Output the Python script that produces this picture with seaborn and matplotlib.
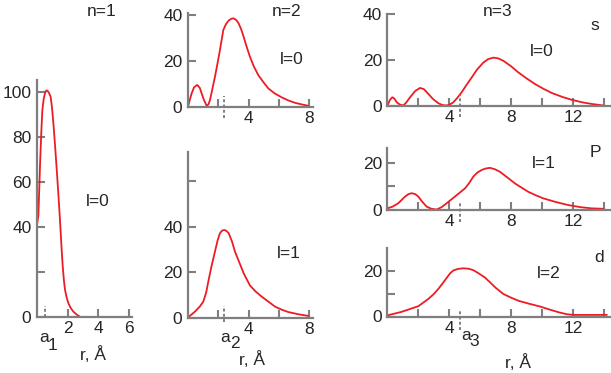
import numpy as np
import pandas as pd
import matplotlib
matplotlib.use("Agg")
import matplotlib.pyplot as plt
import seaborn as sns

# radial probability curves (r in Angstrom, arbitrary units)
r_1s = [0, 0.09, 0.2, 0.28, 0.35, 0.44, 0.52, 0.6, 0.68, 0.78, 0.89, 0.98, 1.07, 1.18,
        1.29, 1.4, 1.5, 1.6, 1.68, 1.76, 1.83, 1.94, 2.05, 2.2, 2.37, 2.6, 2.81]
p_1s = [41, 45, 68, 82, 92, 97, 99.4, 100.6, 100.6, 99.6, 97.9, 93, 86, 76,
        65.3, 54, 43, 31, 22.4, 16, 12, 8.5, 6.1, 4, 2.4, 1, 0.1]

r_2s = [0, 0.12, 0.24, 0.4, 0.61, 0.78, 0.9, 1.05, 1.23, 1.35, 1.45, 1.6, 1.78, 1.95,
        2.11, 2.33, 2.5, 2.68, 2.85, 3.01, 3.18, 3.34, 3.5, 3.67, 3.88, 4.09, 4.35,
        4.64, 5.0, 5.3, 5.7, 6.18, 6.6, 7.06, 7.5, 7.94]
p_2s = [0, 3, 5.8, 8.5, 9.5, 8.2, 5.8, 3, 0.4, 1, 2.9, 7.5, 13.1, 19,
        24.8, 33.5, 36, 37.6, 38.4, 38.6, 37.9, 36.4, 34, 30.6, 26, 21.8, 17.5,
        13.8, 10.5, 8, 5.9, 4.1, 2.8, 1.7, 1, 0.4]

r_2p = [0, 0.46, 0.8, 1.01, 1.2, 1.34, 1.55, 1.78, 1.95, 2.11, 2.25, 2.4, 2.55, 2.68,
        2.9, 3.1, 3.4, 3.67, 3.9, 4.09, 4.45, 4.86, 5.3, 5.74, 6.2, 6.62, 7.3, 7.94]
p_2p = [0, 2.6, 5, 7, 11, 15.8, 22.5, 29, 33.8, 37.1, 38.2, 38.5, 38, 37.1,
        33.5, 29, 24, 19.5, 16.5, 14.1, 11.5, 9.2, 7, 4.8, 3.4, 2.4, 1.4, 0.7]

r_3s = [0, 0.15, 0.31, 0.45, 0.6, 0.8, 1.02, 1.2, 1.46, 1.8, 2.1, 2.35, 2.64, 2.95,
        3.29, 3.55, 3.83, 4.05, 4.26, 4.5, 4.8, 5.1, 5.45, 5.8, 6.2, 6.5, 6.85, 7.15,
        7.5, 8.0, 8.47, 9.0, 9.55, 10.1, 10.63, 11.3, 11.92, 12.6, 13.2, 13.97]
p_3s = [0, 2.4, 3.6, 3, 1.4, 0.4, 0, 1.2, 3.6, 6.4, 7.7, 7.2, 5.1, 2.8,
        1, 0.2, 0, 0.5, 1.4, 3.2, 5.8, 8.9, 12.3, 15.8, 18.8, 20.3, 21, 20.7,
        19.6, 17.2, 14.5, 11.9, 9.4, 7.3, 5.5, 3.8, 2.5, 1.4, 0.7, 0]

r_3p = [0, 0.35, 0.7, 1.13, 1.35, 1.57, 1.8, 2.0, 2.25, 2.54, 2.85, 3.18, 3.5, 3.83,
        4.15, 4.48, 5.02, 5.3, 5.55, 5.8, 6.1, 6.35, 6.63, 6.95, 7.28, 7.75, 8.25,
        8.7, 9.11, 9.6, 10.08, 10.9, 11.7, 12.5, 13.2, 13.97]
p_3p = [0.5, 1.3, 2.7, 5.5, 6.6, 7, 6.6, 5.5, 3.3, 1.2, 0.3, 0, 1, 2.7,
        4.4, 6.2, 9.1, 11.5, 14.1, 15.8, 17, 17.6, 17.9, 17.3, 16.2, 13.8, 11.2,
        9.3, 7.6, 6.1, 4.8, 3.2, 1.9, 1, 0.5, 0.3]

r_3d = [0, 0.9, 2.0, 2.65, 3.0, 3.3, 3.6, 3.85, 4.05, 4.25, 4.55, 4.9, 5.25, 5.55,
        5.9, 6.3, 6.65, 7.0, 7.5, 8.0, 8.5, 9.2, 9.9, 10.5, 11.1, 11.6, 12.0, 14.2]
p_3d = [0.5, 2, 4.5, 7.7, 9.8, 12.1, 14.7, 17, 18.8, 20, 20.7, 21, 20.8, 20.2,
        18.8, 17, 14.8, 12.5, 9.8, 8.2, 6.8, 5.5, 4.3, 3, 1.8, 1, 0.7, 0.7]

# most probable radius markers a1, a2, a3
a_marks = [0.55, 2.35, 4.7]

sns.set_style("white")
plt.rcParams["font.family"] = ["Liberation Sans", "DejaVu Sans"]

W, H = 611, 373
fig = plt.figure(figsize=(W / 100, H / 100), dpi=100)

RED = "#ec1c24"
GRAY = "#7f7f7f"
FS = 12.5


def add_panel(left, right, y0, top, xlim, ylim):
    ax = fig.add_axes([left / W, (H - y0) / H, (right - left) / W, (y0 - top) / H])
    ax.set_xlim(*xlim)
    ax.set_ylim(*ylim)
    ax.patch.set_alpha(0)
    for s in ["top", "right"]:
        ax.spines[s].set_visible(False)
    for s in ["left", "bottom"]:
        ax.spines[s].set_color(GRAY)
        ax.spines[s].set_linewidth(1.6)
    ax.tick_params(direction="in", length=6, width=1.5, color=GRAY,
                   labelsize=FS, pad=4, bottom=True, left=True)
    ax.tick_params(axis="x", pad=3)
    return ax


def draw(ax, r, p):
    d = pd.DataFrame({"r": r, "p": p})
    sns.lineplot(data=d, x="r", y="p", ax=ax, color=RED, linewidth=1.3,
                 sort=False, clip_on=False)
    ax.set_xlabel("")
    ax.set_ylabel("")


def mark(ax, a, lo, hi):
    ax.axvline(a, ymin=lo, ymax=hi, color=GRAY, linestyle=(0, (1.5, 1.2)),
               linewidth=1.4, clip_on=False)


def txt(x, y, s, **kw):
    fig.text(x / W, 1 - y / H, s, ha="center", va="center", fontsize=FS, **kw)


# n=1
axA = add_panel(37, 132, 317, 80, (0, 6.2), (0, 105.3))
draw(axA, r_1s, p_1s)
axA.set_yticks([0, 20, 40, 60, 80, 100], ["0", "", "40", "60", "80", "100"])
axA.set_xticks([2, 4, 6], ["2", "4", "6"])
mark(axA, a_marks[0], 0, 0.045)

# n=2, l=0
axB = add_panel(188, 313, 106.7, 13.3, (0, 8.25), (0, 40.8))
draw(axB, r_2s, p_2s)
axB.set_yticks([0, 20, 40], ["0", "20", "40"])
axB.set_xticks([2, 4, 6, 8], ["", "4", "", "8"])
mark(axB, a_marks[1], -0.12, 0.11)

# n=2, l=1
axC = add_panel(188, 313, 317.5, 151.7, (0, 8.25), (0, 72.9))
draw(axC, r_2p, p_2p)
axC.set_yticks([0, 20, 40, 60], ["0", "20", "40", ""])
axC.set_xticks([2, 4, 6, 8], ["", "4", "", "8"])
mark(axC, a_marks[1], -0.03, 0.07)

# n=3, l=0
axD = add_panel(387.5, 610, 105.5, 14.3, (0, 14.4), (0, 39.7))
draw(axD, r_3s, p_3s)
axD.set_yticks([0, 20, 40], ["0", "20", "40"])
axD.set_xticks(np.arange(2, 15, 2), ["", "4", "", "8", "", "12", ""])
mark(axD, a_marks[2], -0.13, 0.12)

# n=3, l=1
axE = add_panel(387.5, 610, 209.5, 148.3, (0, 14.4), (0, 26.3))
draw(axE, r_3p, p_3p)
axE.set_yticks([0, 10, 20], ["0", "", "20"])
axE.set_xticks(np.arange(2, 15, 2), ["", "4", "", "8", "", "12", ""])
mark(axE, a_marks[2], -0.2, 0.13)

# n=3, l=2
axF = add_panel(387.5, 610, 316.5, 248.3, (0, 14.4), (0, 29.7))
draw(axF, r_3d, p_3d)
axF.set_yticks([0, 10, 20], ["0", "", "20"])
axF.set_xticks(np.arange(2, 15, 2), ["", "4", "", "8", "", "12", ""])
mark(axF, a_marks[2], -0.2, 0.1)

# annotations
txt(102, 12, "n=1")
txt(287, 12, "n=2")
txt(498, 12, "n=3")
txt(595, 25, "s")
txt(595, 152, "P")
txt(599, 257, "d")
txt(98, 202, "l=0")
txt(292, 60, "l=0")
txt(289, 253, "l=1")
txt(542, 52, "l=0")
txt(544, 163, "l=1")
txt(549, 273, "l=2")
txt(93, 355, "r, Å")
txt(252, 360, "r, Å")
txt(518, 363, "r, Å")
txt(44, 337, "a")
txt(53, 345, "1")
txt(225, 337, "a")
txt(235, 343, "2")
txt(466, 335, "a")
txt(474, 342, "3")

fig.savefig("out.png", dpi=100)
